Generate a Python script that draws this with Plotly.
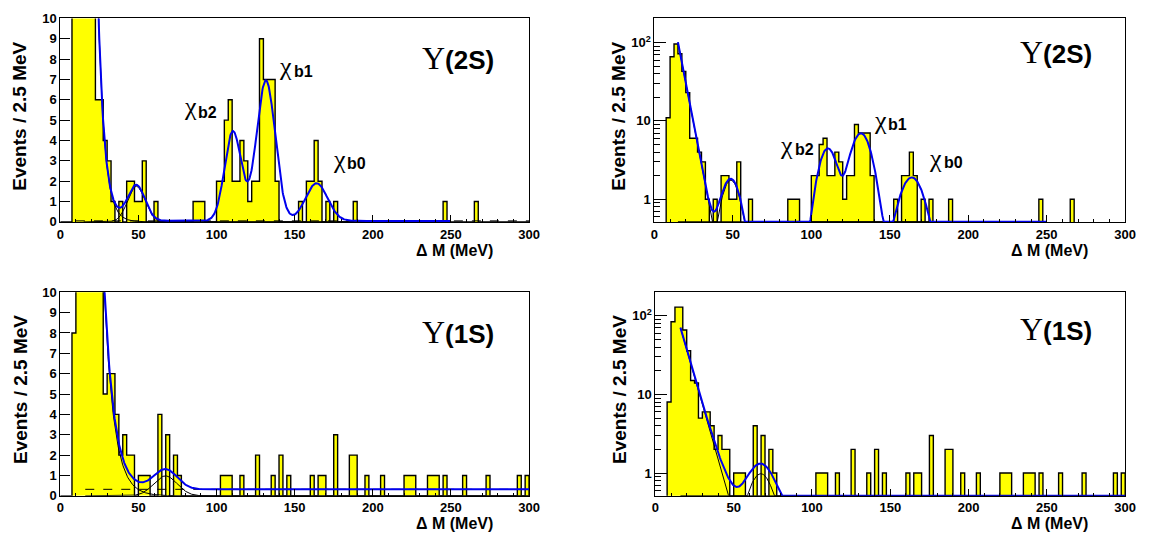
import numpy as np
import plotly.graph_objects as go

W, H = 1149, 544
BIN_WIDTH = 2.5
X_MAX = 300.0

# ---------------- data: events per 2.5 MeV bin (0 .. 300 MeV) ----------------
counts_2s = [
    0, 0, 0, 11, 66, 96, 72, 43, 23, 6,
    6, 4, 3, 1, 0, 1, 0, 2, 2, 1,
    1, 3, 0, 0, 1, 0, 0, 0, 0, 0,
    0, 0, 0, 0, 1, 1, 1, 0, 0, 0,
    2, 2, 5, 6, 2, 2, 4, 3, 1, 2,
    2, 9, 7, 7, 7, 2, 0, 0, 0, 0,
    0, 1, 0, 2, 2, 4, 2, 0, 1, 0,
    1, 0, 0, 0, 0, 1, 0, 0, 0, 0,
    0, 0, 0, 0, 0, 0, 0, 0, 0, 0,
    0, 0, 0, 0, 0, 0, 0, 0, 1, 0,
    0, 0, 0, 0, 0, 0, 1, 0, 0, 0,
    0, 0, 0, 0, 0, 0, 0, 0, 0, 0,
]
counts_1s = [
    0, 0, 0, 8, 84, 129, 129, 66, 36, 15,
    14, 5, 6, 6, 4, 2, 3, 2, 2, 0,
    1, 1, 1, 0, 0, 4, 0, 3, 0, 2,
    1, 0, 0, 0, 0, 0, 0, 0, 0, 0,
    0, 1, 1, 1, 0, 0, 1, 0, 0, 0,
    2, 0, 0, 0, 1, 0, 2, 0, 1, 0,
    0, 0, 0, 0, 1, 0, 1, 1, 0, 0,
    3, 0, 0, 0, 2, 2, 0, 0, 1, 0,
    0, 0, 1, 0, 0, 0, 0, 0, 1, 1,
    1, 0, 0, 0, 1, 1, 1, 0, 1, 0,
    0, 0, 0, 1, 0, 0, 0, 0, 0, 1,
    0, 0, 0, 0, 0, 0, 0, 1, 0, 1,
]

# ---------------- fit parameters ----------------
fit2s_exp_amp, fit2s_exp_ref, fit2s_exp_slope = 72.0, 16.4, 0.243
fit2s_means = [48.7, 110.5, 131.6, 164.0]
fit2s_amps = [1.75, 4.4, 6.9, 1.85]
fit2s_sigmas = [5.5, 5.3, 6.0, 7.0]
fit2s_const = 0.05
fit2s_range = [15.0, 250.0]

fit1s_exp_amp, fit1s_exp_ref, fit1s_exp_slope = 60.0, 17.0, 0.16
fit1s_means = [67.3]
fit1s_amps = [0.98]
fit1s_sigmas = [7.5]
fit1s_const = 0.32
fit1s_range = [16.0, 300.0]

x_ticks = [0, 50, 100, 150, 200, 250, 300]
lin_ticks = list(range(0, 11))
log_ticks = [1, 10, 100]
log_ticktext = ["1", "10", "10<sup>2</sup>"]
log_minor = [0.6, 0.7, 0.8, 0.9, 2, 3, 4, 5, 6, 7, 8, 9,
             20, 30, 40, 50, 60, 70, 80, 90, 200]

# ---------------- layout geometry (pixels) ----------------
PANELS = {
    "tl": (57, 532, 11.7, 221.0),
    "tr": (659, 1136, 11.7, 221.0),
    "bl": (57, 532, 293.3, 502.7),
    "br": (660, 1136, 293.3, 502.7),
}
YELLOW = "#ffff00"
BLUE = "#0000ee"
SANS = "Liberation Sans"
SERIF = "Liberation Serif"


def px(x):
    return x / W


def py(y):
    return 1 - y / H


def step_path(counts, floor):
    xs, ys = [0.0], [floor]
    for i, c in enumerate(counts):
        v = c if c > 0 else floor
        xs += [i * BIN_WIDTH, (i + 1) * BIN_WIDTH]
        ys += [v, v]
    xs.append(len(counts) * BIN_WIDTH)
    ys.append(floor)
    return xs, ys


def gauss(x, m, a, s):
    return a * np.exp(-0.5 * ((x - m) / s) ** 2)


def components(xr, amp, ref, slope, means, amps, sigmas, const):
    x = np.linspace(xr[0], xr[1], 800)
    ex = amp * np.exp(-slope * (x - ref))
    gs = [gauss(x, m, a, s) for m, a, s in zip(means, amps, sigmas)]
    total = ex + sum(gs) + const
    return x, ex, gs, total


fig = go.Figure()

panel_defs = [
    ("tl", 1, counts_2s, False, "2S"),
    ("tr", 2, counts_2s, True, "2S"),
    ("bl", 3, counts_1s, False, "1S"),
    ("br", 4, counts_1s, True, "1S"),
]

for key, n, counts, is_log, state in panel_defs:
    xa = "x" if n == 1 else f"x{n}"
    ya = "y" if n == 1 else f"y{n}"
    floor = 0.1 if is_log else 0.0
    hx, hy = step_path(counts, floor)
    fig.add_trace(go.Scatter(x=hx, y=hy, mode="lines", fill="toself",
                             fillcolor=YELLOW, line=dict(color="black", width=1.4),
                             xaxis=xa, yaxis=ya, showlegend=False, hoverinfo="skip"))
    if state == "2S":
        x, ex, gs, tot = components(fit2s_range, fit2s_exp_amp, fit2s_exp_ref, fit2s_exp_slope,
                                    fit2s_means, fit2s_amps, fit2s_sigmas, fit2s_const)
        comp_list = [ex, gs[0]]
        const = fit2s_const
        dash_x = [10.0, X_MAX]
    else:
        x, ex, gs, tot = components(fit1s_range, fit1s_exp_amp, fit1s_exp_ref, fit1s_exp_slope,
                                    fit1s_means, fit1s_amps, fit1s_sigmas, fit1s_const)
        comp_list = [ex, gs[0]]
        const = fit1s_const
        dash_x = [16.0, X_MAX]
    ymin = 0.515 if is_log else -1
    if not is_log:
        fig.add_trace(go.Scatter(x=dash_x, y=[const, const], mode="lines",
                                 line=dict(color="black", width=1, dash="dash"),
                                 xaxis=xa, yaxis=ya, showlegend=False, hoverinfo="skip"))
    for c in comp_list:
        yy = np.maximum(c, ymin) if is_log else c
        fig.add_trace(go.Scatter(x=x, y=yy, mode="lines", line=dict(color="black", width=1),
                                 xaxis=xa, yaxis=ya, showlegend=False, hoverinfo="skip"))
    yy = np.maximum(tot, ymin) if is_log else tot
    fig.add_trace(go.Scatter(x=x, y=yy, mode="lines", line=dict(color=BLUE, width=2),
                             xaxis=xa, yaxis=ya, showlegend=False, hoverinfo="skip"))

tickfont = dict(family=SANS, size=13, color="black", weight="bold")
layout = dict(width=W, height=H, margin=dict(l=0, r=0, t=0, b=0),
              paper_bgcolor="white", plot_bgcolor="white", showlegend=False)

for key, n, counts, is_log, state in panel_defs:
    x0, x1, y0, y1 = PANELS[key]
    xname = "xaxis" if n == 1 else f"xaxis{n}"
    yname = "yaxis" if n == 1 else f"yaxis{n}"
    ya_ref = "y" if n == 1 else f"y{n}"
    xa_ref = "x" if n == 1 else f"x{n}"
    layout[xname] = dict(domain=[px(x0), px(x1)], anchor=ya_ref, range=[0, X_MAX],
                         tickmode="array", tickvals=x_ticks, ticks="inside", ticklen=7,
                         tickcolor="black", showline=True, linecolor="black", linewidth=1,
                         mirror=True, showgrid=False, zeroline=False, tickfont=tickfont,
                         minor=dict(dtick=10, ticks="inside", ticklen=3, tickcolor="black",
                                    showgrid=False))
    if is_log:
        rng = [-0.29, 2.31] if state == "2S" else [-0.29, 2.30]
        layout[yname] = dict(domain=[py(y1), py(y0)], anchor=xa_ref, type="log", range=rng,
                             tickmode="array", tickvals=log_ticks, ticktext=log_ticktext,
                             ticks="inside", ticklen=12, tickcolor="black",
                             showline=True, linecolor="black", linewidth=1, mirror=True,
                             showgrid=False, zeroline=False, tickfont=tickfont,
                             minor=dict(tickvals=log_minor, ticks="inside", ticklen=6,
                                        tickcolor="black", showgrid=False))
    else:
        layout[yname] = dict(domain=[py(y1), py(y0)], anchor=xa_ref, range=[0, 10],
                             tickmode="array", tickvals=lin_ticks, ticks="inside", ticklen=10,
                             tickcolor="black", showline=True, linecolor="black", linewidth=1,
                             mirror=True, showgrid=False, zeroline=False, tickfont=tickfont)

fig.update_layout(**layout)

ann = []


def add_text(x, y, text, size, family=SANS, bold=True, xanchor="center", angle=0):
    ann.append(dict(x=px(x), y=py(y), xref="paper", yref="paper", text=text,
                    showarrow=False, xanchor=xanchor, yanchor="middle", textangle=angle,
                    font=dict(family=family, size=size, color="black",
                              weight="bold" if bold else "normal")))


# state labels (serif Upsilon followed by bold sans state)
for (ux, uy, label) in [(421, 52, "(2S)"), (1027, 46, "(2S)"),
                        (421, 334, "(1S)"), (1027, 331, "(1S)")]:
    txt = ('<span style="font-family:Liberation Serif;font-weight:normal;font-size:32px">Υ</span>'
           + label)
    add_text(ux, uy, txt, 26, xanchor="left")

# chi_b labels
chi_labels = [
    (189, 102, 195, 108, "b2"), (285, 61, 292, 66, "b1"), (340, 157, 346, 161, "b0"),
    (793, 142, 799, 147, "b2"), (888, 117, 894, 121, "b1"), (944, 156, 950, 160, "b0"),
]
for cx, cy, sx, sy, sub in chi_labels:
    add_text(cx, cy, "χ", 26, family=SERIF, bold=False)
    add_text(sx, sy, sub, 16, xanchor="left")

# axis titles
for (tx, ty) in [(497, 250), (1100, 250), (497, 531), (1100, 531)]:
    add_text(tx, ty, "Δ M (MeV)", 16, xanchor="right")
for (tx, ty) in [(16, 112), (623, 112), (16, 393), (623, 393)]:
    add_text(tx, ty, "Events / 2.5 MeV", 19, angle=-90)

fig.update_layout(annotations=ann)
fig.write_html("out.html", config={"displayModeBar": False},
               post_script="document.body.style.margin='0';document.body.style.padding='0';")
